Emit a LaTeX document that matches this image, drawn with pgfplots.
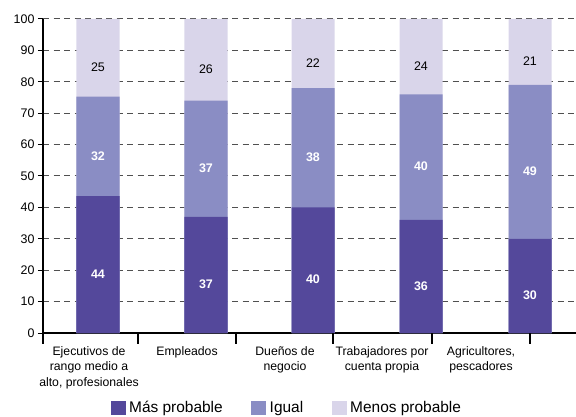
\documentclass[border=0pt]{standalone}
\usepackage{pgfplots}
\usepackage{pgfplotstable}
\pgfplotsset{compat=1.18}
\usepackage{fontspec}
\setmainfont{Liberation Sans}
\definecolor{cmas}{RGB}{84,72,155}
\definecolor{cigual}{RGB}{138,141,196}
\definecolor{cmenos}{RGB}{217,213,234}
\definecolor{cgrid}{RGB}{80,80,80}

% x: bar position, values as labelled (each bar is drawn scaled to 100)
\pgfplotstableread{
x mas igual menos
98 44 32 25
206 37 37 26
313 40 38 22
421 36 40 24
530 30 49 21
}\data

\begin{document}
\begin{tikzpicture}
\begin{axis}[
  x=1bp, y=3.14bp,
  xmin=43, xmax=576, ymin=0, ymax=100,
  clip=false,
  axis x line*=bottom, axis y line*=left,
  axis line style={black, line width=1.1bp, -},
  ytick={0,10,...,100},
  xtick={89,187,285,382,481},
  xticklabels={{Ejecutivos de\\rango medio a\\alto, profesionales},{Empleados},{Dueños de\\negocio},{Trabajadores por\\cuenta propia},{Agricultores,\\pescadores}},
  x tick label style={align=center, font=\fontsize{12.3}{15.5}\selectfont, yshift=-5bp},
  xtick style={draw=none},
  ytick style={black, line width=1bp},
  major tick length=5bp,
  tick align=outside,
  y tick label style={font=\fontsize{12.5}{14}\selectfont},
  /pgf/number format/assume math mode=true,
  ymajorgrids,
  grid style={cgrid, line width=1bp, dash pattern=on 6bp off 4.5bp},
  legend columns=3,
  legend style={draw=none, at={(0.457,-0.238)}, anchor=center,
    font=\fontsize{15.5}{18}\selectfont,
    /tikz/every even column/.append style={column sep=27bp},
    nodes={inner sep=1.5bp}},
  legend image code/.code={\path[#1, draw=none] (0bp,-7bp) rectangle (15bp,7bp);},
]
\addlegendimage{fill=cmas, draw=none}
\addlegendentry{\hspace{2bp}Más probable}
\addlegendimage{fill=cigual, draw=none}
\addlegendentry{\hspace{2bp}Igual}
\addlegendimage{fill=cmenos, draw=none}
\addlegendentry{\hspace{2bp}Menos probable}

% bars drawn from the top of the stack downwards
\addplot[ybar, bar width=43bp, bar shift=0pt, fill=cmenos, draw=none, forget plot]
  table[x=x, y expr=100*(\thisrow{mas}+\thisrow{igual}+\thisrow{menos})/(\thisrow{mas}+\thisrow{igual}+\thisrow{menos})] {\data};
\addplot[ybar, bar width=43bp, bar shift=0pt, fill=cigual, draw=none, forget plot]
  table[x=x, y expr=100*(\thisrow{mas}+\thisrow{igual})/(\thisrow{mas}+\thisrow{igual}+\thisrow{menos})] {\data};
\addplot[ybar, bar width=43bp, bar shift=0pt, fill=cmas, draw=none, forget plot]
  table[x=x, y expr=100*\thisrow{mas}/(\thisrow{mas}+\thisrow{igual}+\thisrow{menos})] {\data};

% value labels
\addplot[draw=none, forget plot, nodes near coords, point meta=explicit,
  every node near coord/.append style={anchor=center, text=white, font=\fontsize{12.5}{14}\bfseries\selectfont}]
  table[x=x, y expr=100*(\thisrow{mas}/2)/(\thisrow{mas}+\thisrow{igual}+\thisrow{menos})-3, meta=mas] {\data};
\addplot[draw=none, forget plot, nodes near coords, point meta=explicit,
  every node near coord/.append style={anchor=center, text=white, font=\fontsize{12.5}{14}\bfseries\selectfont}]
  table[x=x, y expr=100*(\thisrow{mas}+\thisrow{igual}/2)/(\thisrow{mas}+\thisrow{igual}+\thisrow{menos})-3, meta=igual] {\data};
\addplot[draw=none, forget plot, nodes near coords, point meta=explicit,
  every node near coord/.append style={anchor=center, text=black, font=\fontsize{12.5}{14}\selectfont}]
  table[x=x, y expr=100*(\thisrow{mas}+\thisrow{igual}+\thisrow{menos}/2)/(\thisrow{mas}+\thisrow{igual}+\thisrow{menos})-3, meta=menos] {\data};

\coordinate (O) at (axis cs:43,0);
\pgfplotsinvokeforeach{43,138,236,333,432,530}{
  \draw[black, line width=1.1bp] (axis cs:#1,0) -- ++(0bp,-11bp);
}
\end{axis}
\pgfresetboundingbox
\path[use as bounding box] ([shift={(-43bp,-84bp)}]O) rectangle ([shift={(533bp,333bp)}]O);
\end{tikzpicture}
\end{document}
